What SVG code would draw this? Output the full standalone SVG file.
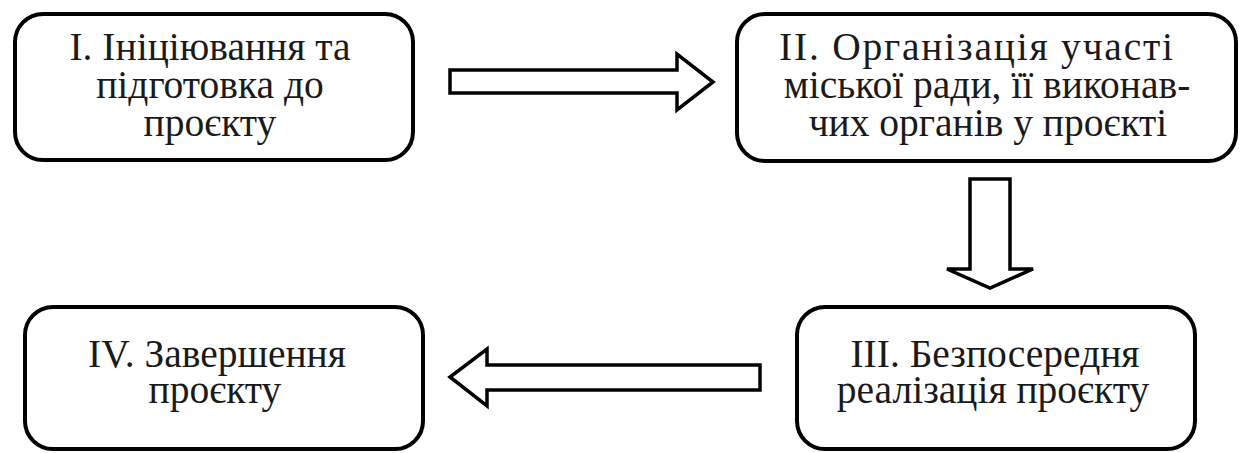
<svg xmlns="http://www.w3.org/2000/svg" width="1242" height="453" viewBox="0 0 1242 453">
<style>
.box{fill:#fff;stroke:#000;stroke-width:4}
.arr{fill:#fff;stroke:#000;stroke-width:3.5;stroke-linejoin:miter}
.t{font-family:"Liberation Serif","Times New Roman",serif;font-size:39.5px;fill:#1a1a1a;text-anchor:middle}
</style>
<rect width="1242" height="453" fill="#fff"/>
<g id="connectors">
<polygon class="arr" points="450,70 677,70 677,54 713,82 677,110 677,93 450,93"/>
<polygon class="arr" points="970,179 1010,179 1010,269 1033,269 990,288 947,269 970,269"/>
<polygon class="arr" points="760,365 487,365 487,349 450,377 487,406 487,390 760,390"/>
</g>
<g id="node1">
<rect class="box" x="15" y="14" width="398" height="146" rx="28"/>
<text class="t" x="210" y="60">I. Ініціювання та</text>
<text class="t" x="210" y="98">підготовка до</text>
<text class="t" x="210" y="136">проєкту</text>
</g>
<g id="node2">
<rect class="box" x="737" y="14" width="499" height="147" rx="28"/>
<text class="t" x="976" y="60" textLength="394" lengthAdjust="spacing">II. Організація участі</text>
<text class="t" x="987" y="98">міської ради, її виконав-</text>
<text class="t" x="988" y="136">чих органів у проєкті</text>
</g>
<g id="node3">
<rect class="box" x="797" y="307" width="398" height="142" rx="28"/>
<text class="t" x="995" y="367">III. Безпосередня</text>
<text class="t" x="993" y="403">реалізація проєкту</text>
</g>
<g id="node4">
<rect class="box" x="25" y="307" width="398" height="142" rx="28"/>
<text class="t" x="217" y="367">IV. Завершення</text>
<text class="t" x="215" y="403">проєкту</text>
</g>
</svg>
